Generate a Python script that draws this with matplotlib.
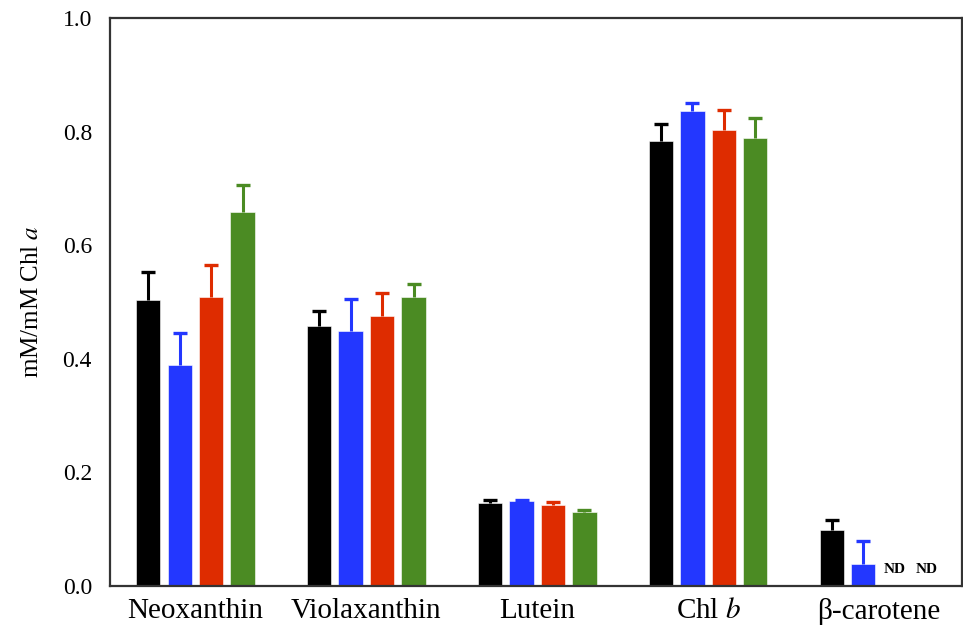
import matplotlib
matplotlib.use("Agg")
import matplotlib.pyplot as plt
import numpy as np

plt.rcParams["font.family"] = ["Liberation Serif", "DejaVu Serif"]
plt.rcParams["mathtext.fontset"] = "stix"

categories = ["Neoxanthin", "Violaxanthin", "Lutein", "Chl $\\mathit{b}$", "\u03b2-carotene"]
series_colors = ["#000000", "#2337FF", "#DE2C00", "#4B8B23"]

# mean values per series (4 treatments), one entry per pigment
s1 = [0.503, 0.458, 0.146, 0.783, 0.099]
s2 = [0.389, 0.449, 0.150, 0.837, 0.039]
s3 = [0.509, 0.475, 0.142, 0.803, 0.0]
s4 = [0.658, 0.509, 0.131, 0.788, 0.0]

# upper error (SD)
e1 = [0.050, 0.026, 0.005, 0.031, 0.017]
e2 = [0.056, 0.056, 0.002, 0.014, 0.040]
e3 = [0.056, 0.040, 0.005, 0.035, 0.0]
e4 = [0.048, 0.023, 0.002, 0.035, 0.0]

nd_flags = [[False] * 5, [False] * 5,
            [False, False, False, False, True],
            [False, False, False, False, True]]

means = [s1, s2, s3, s4]
errs = [e1, e2, e3, e4]

fig = plt.figure(figsize=(9.63, 6.27), dpi=100)
ax = fig.add_axes([0.1142, 0.0654, 0.8847, 0.906])

x = np.arange(len(categories))
width = 0.142
step = 0.184
offsets = (np.arange(4) - 1.5) * step

for i in range(4):
    xs = x + offsets[i]
    vals = np.array(means[i])
    up = np.array(errs[i])
    ax.bar(xs, vals, width=width, color=series_colors[i],
           edgecolor="#ffffff", linewidth=0.4, zorder=2)
    # upper-only error bars: stem + cap
    mask = up > 0
    ax.vlines(xs[mask], vals[mask], vals[mask] + up[mask],
              color=series_colors[i], linewidth=2.2, zorder=3)
    ax.plot(xs[mask], vals[mask] + up[mask], linestyle="none", marker="_",
            markersize=10, markeredgewidth=2.4, color=series_colors[i], zorder=3)
    for j, flag in enumerate(nd_flags[i]):
        if flag:
            ax.text(xs[j], 0.018, "ND", ha="center", va="bottom",
                    fontsize=11, fontweight="bold")

ax.set_xlim(-0.5, 4.485)
ax.set_ylim(0, 1.0)
ax.set_yticks([0.0, 0.2, 0.4, 0.6, 0.8, 1.0])
ax.set_yticklabels(["0.0", "0.2", "0.4", "0.6", "0.8", "1.0"])
ax.set_xticks(x)
ax.set_xticklabels(categories)
ax.tick_params(axis="y", length=0, pad=13, labelsize=17)
ax.tick_params(axis="x", length=0, pad=9, labelsize=21)
ax.set_ylabel("mM/mM Chl $\\mathit{a}$", fontsize=18, labelpad=14)

for sp in ax.spines.values():
    sp.set_linewidth(1.6)
    sp.set_color("#333333")

fig.savefig("out.png", dpi=100)
